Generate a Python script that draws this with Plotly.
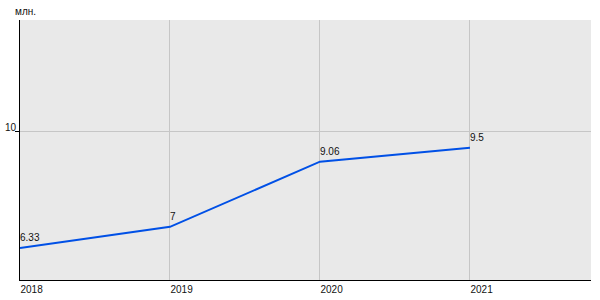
import plotly.graph_objects as go

years = [2018, 2019, 2020, 2021]
values = [6.33, 7, 9.06, 9.5]
labels = ["6.33", "7", "9.06", "9.5"]
unit_label = "млн."

fig = go.Figure()
fig.add_trace(go.Scatter(
    x=years, y=values, mode="lines",
    line=dict(color="#0050e6", width=2),
    cliponaxis=False, hoverinfo="skip",
))

label_annotations = [
    dict(x=xv, y=yv, text=t, xref="x", yref="y", xanchor="left", yanchor="bottom",
         xshift=-2, yshift=3, showarrow=False,
         font=dict(family="Liberation Sans, Arial", size=10, color="#111111"))
    for xv, yv, t in zip(years, values, labels)
]

fig.update_layout(
    width=600, height=300,
    margin=dict(l=20, r=9, t=20, b=20),
    paper_bgcolor="white",
    plot_bgcolor="#e9e9e9",
    showlegend=False,
    font=dict(family="Liberation Sans, Arial", size=10, color="#111111"),
    xaxis=dict(
        range=[2018, 2021.807], tickvals=years, ticktext=[str(y) for y in years],
        showgrid=True, gridcolor="#c6c6c6", gridwidth=1,
        showline=True, linecolor="black", linewidth=1,
        ticks="", ticklabelposition="outside right",
        zeroline=False, fixedrange=True, automargin=False,
    ),
    yaxis=dict(
        range=[5.32, 13.54], tickvals=[10], ticktext=["10"],
        showgrid=True, gridcolor="#c6c6c6", gridwidth=1,
        showline=True, linecolor="black", linewidth=1,
        ticks="outside", ticklen=4, tickcolor="black",
        ticklabelposition="outside top", ticklabelshift=3, ticklabelstandoff=1,
        zeroline=False, fixedrange=True, automargin=False,
    ),
    annotations=[dict(
        text=unit_label, xref="paper", yref="paper", x=-0.012, y=1.0,
        xanchor="left", yanchor="bottom", yshift=1, showarrow=False,
        font=dict(size=10, color="#111111"),
    )] + label_annotations,
)

fig.write_html("out.html")
